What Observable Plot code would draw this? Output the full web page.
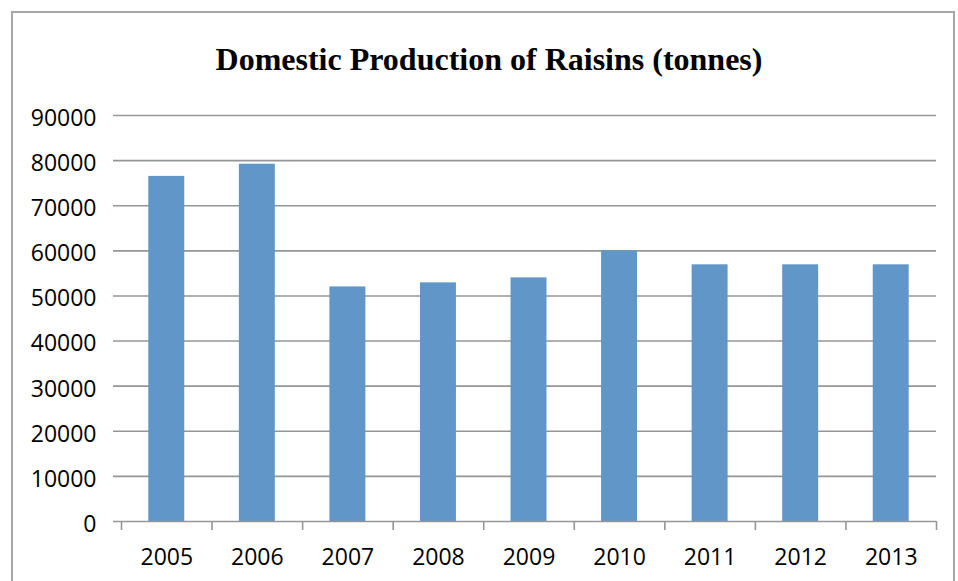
<!DOCTYPE html>
<html>
<head>
<meta charset="utf-8">
<script src="https://cdn.jsdelivr.net/npm/d3@7"></script>
<script src="https://cdn.jsdelivr.net/npm/@observablehq/plot@0.6"></script>
<style>
  html, body { margin: 0; padding: 0; background: #fff; width: 958px; height: 581px; overflow: hidden; }
  #frame { position: absolute; left: 11px; top: 11px; width: 944px; height: 620px; box-sizing: border-box;
           border: 2px solid #a6a6a6; border-bottom: none; }
  #title { position: absolute; top: 39px; left: 489px; transform: translateX(-50%); white-space: nowrap;
           font-family: "Liberation Serif", "Times New Roman", serif; font-weight: bold; font-size: 32px; color: #000; line-height: 40px; }
  #chart { position: absolute; left: 0; top: 100px; }
</style>
</head>
<body>
<div id="frame"></div>
<div id="title">Domestic Production of Raisins (tonnes)</div>
<div id="chart"></div>
<script>
const years = ["2005", "2006", "2007", "2008", "2009", "2010", "2011", "2012", "2013"];
const production = [76500, 79200, 52000, 52900, 54000, 60000, 56900, 56900, 56900];
const yTicks = [0, 10000, 20000, 30000, 40000, 50000, 60000, 70000, 80000, 90000];

const data = years.map((year, i) => ({year, i, value: production[i]}));
const boundaries = years.map((_, i) => i).concat([years.length]);
const mids = years.map((_, i) => i + 0.5);

const gray = "#969696";
const font = "'Open Sans', sans-serif";

const chart = Plot.plot({
  width: 958,
  height: 481,
  marginLeft: 121,
  marginRight: 22,
  marginTop: 15,
  marginBottom: 60,
  style: {fontFamily: font, fontSize: "23px", color: "#000", background: "transparent", overflow: "visible"},
  x: {type: "linear", domain: [0, years.length], axis: null, label: null},
  y: {domain: [0, 90000], axis: null, label: null},
  marks: [
    Plot.ruleY(yTicks.slice(1), {stroke: gray, strokeWidth: 1.6, insetLeft: -8}),
    Plot.rectY(data, {x1: "i", x2: d => d.i + 1, y: "value", fill: "#6096C8", insetLeft: 27.3, insetRight: 27.3}),
    Plot.ruleY([0], {stroke: gray, strokeWidth: 1.6, insetLeft: -8}),
    Plot.axisX({ticks: boundaries, tickSize: 9, tickFormat: () => "", label: null, stroke: gray, strokeWidth: 1.6}),
    Plot.axisX({ticks: mids, tickSize: 0, tickPadding: 27, label: null, tickFormat: v => years[Math.floor(v)], fill: "#000", fontSize: 23}),
    Plot.axisY({ticks: yTicks, tickSize: 0, tickPadding: 25, label: null, tickFormat: d => String(d), fill: "#000", fontSize: 23, dy: 3})
  ]
});
document.getElementById("chart").appendChild(chart);
</script>
</body>
</html>
